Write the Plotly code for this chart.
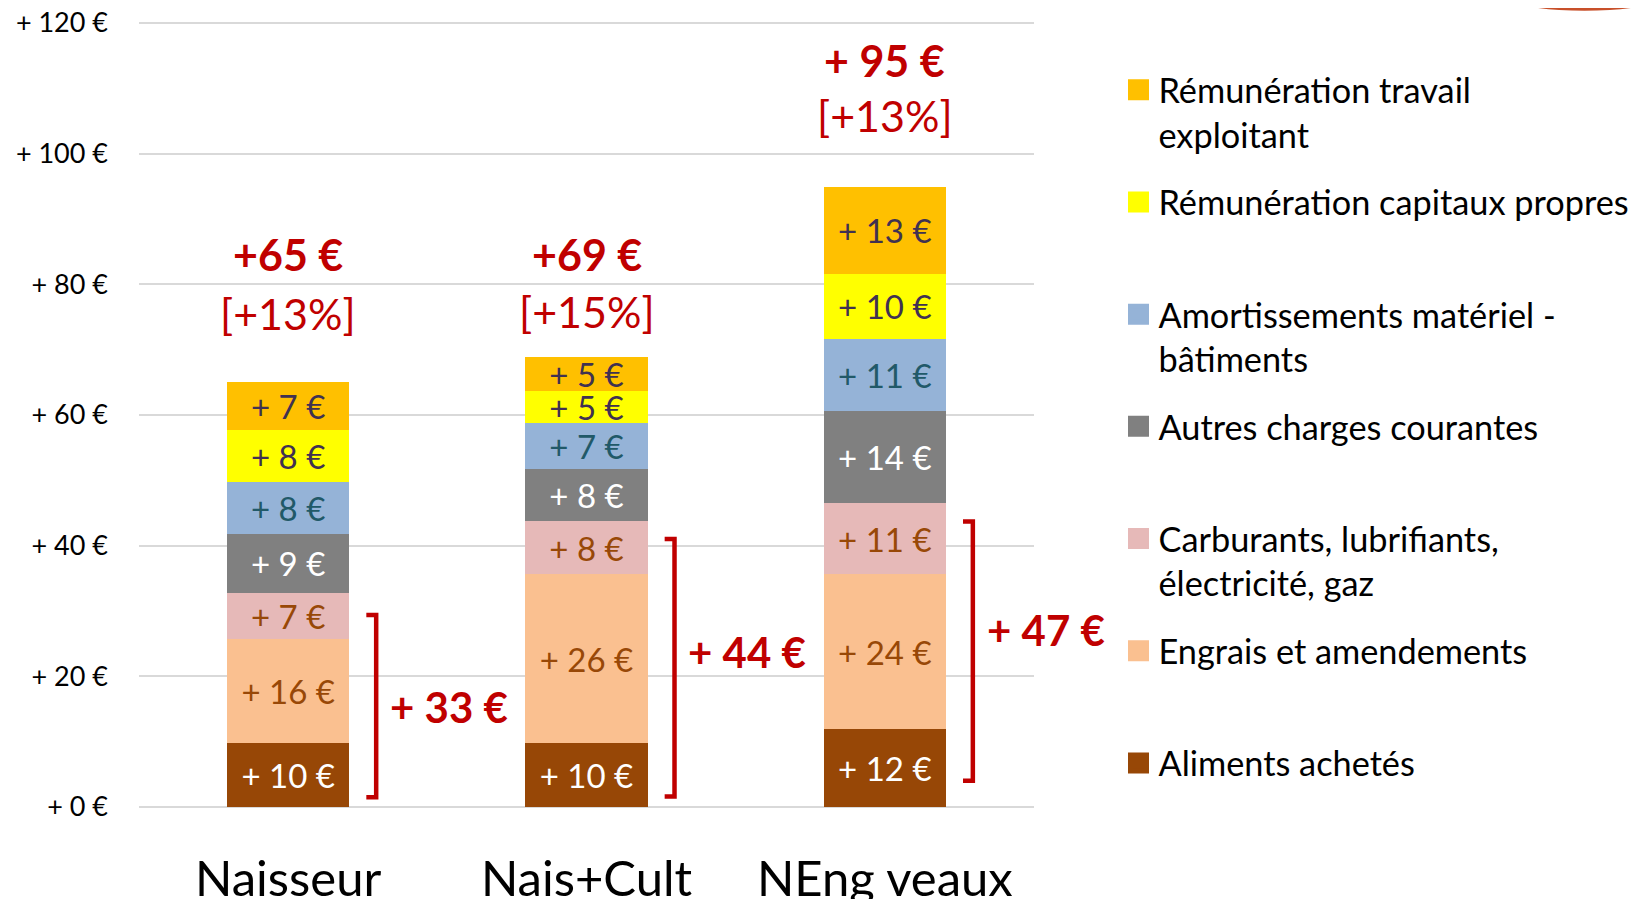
import plotly.graph_objects as go

# ---------------- data ----------------
categories = ["Naisseur", "Nais+Cult", "NEng veaux"]

aliments = [9.8, 9.8, 11.9]
engrais = [15.9, 25.8, 23.7]
carburants = [7.1, 8.2, 10.9]
autres = [9.0, 8.0, 14.1]
amortissements = [8.0, 6.9, 11.1]
rem_capitaux = [7.9, 5.0, 9.9]
rem_travail = [7.4, 5.1, 13.3]

total_labels = ["+65 €", "+69 €", "+ 95 €"]
pct_labels = ["[+13%]", "[+15%]", "[+13%]"]
bracket_labels = ["+ 33 €", "+ 44 €", "+ 47 €"]

y_tick_values = [0, 20, 40, 60, 80, 100, 120]
y_tick_labels = ["+ %d €" % v for v in y_tick_values]

series_names = [
    "Aliments achetés",
    "Engrais et amendements",
    "Carburants, lubrifiants,<br>électricité, gaz",
    "Autres charges courantes",
    "Amortissements matériel -<br>bâtiments",
    "Rémunération capitaux propres",
    "Rémunération travail<br>exploitant",
]
series_values = [aliments, engrais, carburants, autres, amortissements, rem_capitaux, rem_travail]

# ---------------- styles / positions ----------------
colors = ["#974706", "#FAC090", "#E6B9B8", "#808080", "#95B3D7", "#FFFF00", "#FFC000"]
text_colors = ["#FFFFFF", "#984807", "#984807", "#FFFFFF", "#215968", "#403151", "#403151"]
FONT = "Lato"
RED = "#C00000"

total_label_y = [84.5, 84.5, 114.3]
pct_label_y = [75.6, 75.8, 105.8]
bracket_lo = [1.5, 1.6, 4.0]
bracket_hi = [29.4, 41.0, 43.7]
bracket_label_y = [15.3, 23.7, 27.1]

fig = go.Figure()

for name, vals, col, tcol in zip(series_names, series_values, colors, text_colors):
    fig.add_trace(go.Bar(
        x=categories, y=vals, name=name.replace("<br>", " "),
        marker=dict(color=col, line=dict(width=0)),
        width=0.41,
        texttemplate="+ %{y:.0f} €",
        textposition="inside",
        insidetextanchor="middle",
        textangle=0,
        textfont=dict(family=FONT, size=33, color=tcol),
        showlegend=False,
        hoverinfo="skip",
    ))

# legend entries (top to bottom), padded to two lines for even spacing
legend_order = list(range(len(series_names)))[::-1]
for k, idx in enumerate(legend_order):
    nm = series_names[idx]
    if "<br>" not in nm:
        nm = nm + "<br>\u00a0"
    fig.add_trace(go.Scatter(
        x=[None], y=[None], mode="markers", name=nm,
        legendgroup="g%d" % k,
        marker=dict(symbol="square", size=16, color=colors[idx],
                    line=dict(color=colors[idx], width=5)),
    ))

# annotations above bars
for i in range(len(categories)):
    fig.add_annotation(x=i, y=total_label_y[i], text="<b>%s</b>" % total_labels[i],
                       showarrow=False, font=dict(family=FONT, size=43, color=RED),
                       xanchor="center", yanchor="middle")
    fig.add_annotation(x=i, y=pct_label_y[i], text=pct_labels[i],
                       showarrow=False, font=dict(family=FONT, size=43, color=RED),
                       xanchor="center", yanchor="middle")

# brackets
for i in range(len(categories)):
    xv = i + 0.295
    xt = i + 0.262
    fig.add_shape(type="path",
                  path="M %f,%f L %f,%f L %f,%f L %f,%f" % (xt, bracket_hi[i], xv, bracket_hi[i],
                                                              xv, bracket_lo[i], xt, bracket_lo[i]),
                  xref="x", yref="y", line=dict(color=RED, width=4.5))
    fig.add_annotation(x=i + 0.335, y=bracket_label_y[i], text="<b>%s</b>" % bracket_labels[i],
                       showarrow=False, font=dict(family=FONT, size=42, color=RED),
                       xanchor="left", yanchor="middle")

# decorative sliver at top right (cut-off picture in reference)
fig.add_shape(type="circle", xref="paper", yref="paper",
              x0=1.47, x1=1.76, y0=1.013, y1=1.12,
              fillcolor="#C8502A", line=dict(width=0), layer="above")

fig.update_layout(
    width=1635, height=891,
    margin=dict(l=131, r=609, t=13, b=92, autoexpand=False),
    barmode="stack",
    bargap=0.59,
    plot_bgcolor="white", paper_bgcolor="white",
    font=dict(family=FONT, color="black"),
    uniformtext=dict(minsize=33, mode="show"),
    legend=dict(
        x=1.0944, xanchor="left", y=0.9491, yanchor="top",
        font=dict(family=FONT, size=34.3, color="black"),
        traceorder="grouped", valign="top", tracegroupgap=20,
        itemsizing="trace", bgcolor="rgba(0,0,0,0)",
    ),
    xaxis=dict(
        type="category", range=[-0.5, 2.5],
        showgrid=False, showline=False, zeroline=False,
        tickfont=dict(family=FONT, size=49, color="black"),
        ticks="", ticklabelstandoff=39,
    ),
    yaxis=dict(
        range=[0, 120.3], tickmode="array",
        tickvals=y_tick_values, ticktext=y_tick_labels,
        ticklabeloverflow="allow",
        showgrid=True, gridcolor="#D9D9D9", gridwidth=2,
        zeroline=True, zerolinecolor="#D9D9D9", zerolinewidth=2,
        showline=False, ticks="", ticklabelstandoff=30,
        tickfont=dict(family=FONT, size=27, color="black"),
    ),
)

fig.write_html("out.html")
